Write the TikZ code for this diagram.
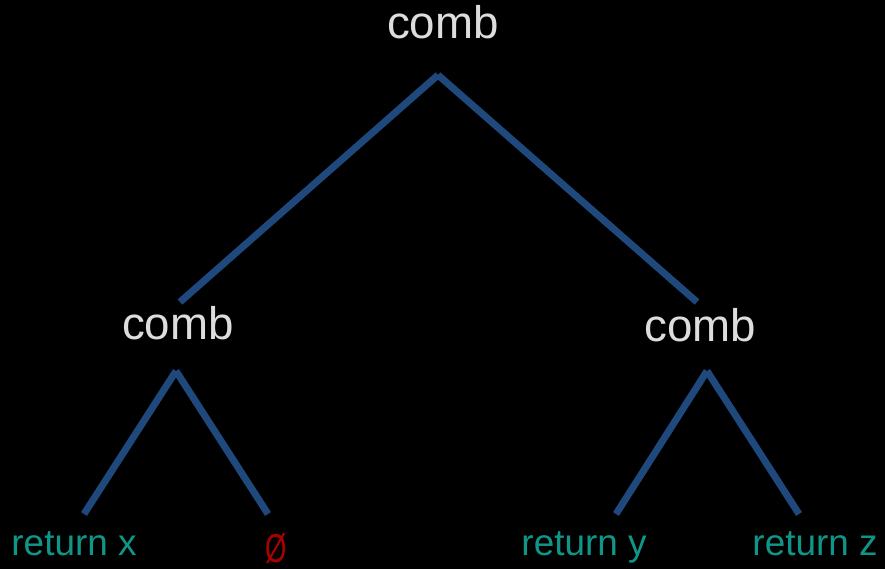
\documentclass[tikz,border=0pt]{standalone}
\usepackage{fontspec}
\setmainfont{Liberation Sans}
\usetikzlibrary{calc}
\definecolor{linkblue}{RGB}{31,73,125}
\definecolor{combgray}{RGB}{221,221,221}
\definecolor{leafteal}{RGB}{16,150,136}
\definecolor{emptyred}{RGB}{170,0,0}

\begin{document}
\begin{tikzpicture}[x=0.02cm, y=-0.02cm,
  comb/.style={anchor=base, inner sep=0pt, text=combgray, font=\fontsize{26}{30}\selectfont},
  leaf/.style={anchor=base, inner sep=0pt, text=leafteal, font=\fontsize{21}{25}\selectfont},
  link/.style={linkblue, line width=4pt}]
  \fill[black] (0,0) rectangle (885,569);
  \useasboundingbox (0,0) rectangle (885,569);

  % comb nodes
  \node[comb] (root) at (443,38) {comb};
  \node[comb] (lc) at (178,339) {comb};
  \node[comb] (rc) at (700,341) {comb};

  % leaves
  \node[leaf] (rx) at (74,555) {return x};
  \node[leaf, text=emptyred, font=\fontsize{23}{27}\selectfont] (em) at (276,562) {\scalebox{0.68}[1]{Ø}};
  \node[leaf] (ry) at (584,555) {return y};
  \node[leaf] (rz) at (815,555) {return z};

  % links
  \draw[link] ($(root.base)+(-5,37)$) -- ($(lc.base)+(2,-37)$);
  \draw[link] ($(root.base)+(-5,37)$) -- ($(rc.base)+(-3,-39)$);
  \draw[link] ($(lc.base)+(-2,32)$) -- ($(rx.base)+(10,-41)$);
  \draw[link] ($(lc.base)+(-2,32)$) -- ($(em.base)+(-8,-48)$);
  \draw[link] ($(rc.base)+(7,30)$) -- ($(ry.base)+(32,-41)$);
  \draw[link] ($(rc.base)+(7,30)$) -- ($(rz.base)+(-16,-41)$);
\end{tikzpicture}
\end{document}
